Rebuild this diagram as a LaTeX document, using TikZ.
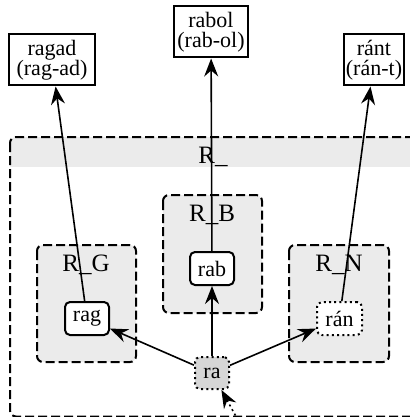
\documentclass[tikz,border=0pt]{standalone}
\usepackage{fontspec}
\setmainfont{Liberation Serif}
\usetikzlibrary{arrows.meta}
\definecolor{groupgray}{HTML}{EBEBEB}
\definecolor{seedgray}{HTML}{D6D6D6}
\begin{document}
\begin{tikzpicture}[x=0.5pt,y=-0.5pt,
  groupbox/.style={draw, line width=1pt, dash pattern=on 4.5pt off 2pt,
    rounded corners=3pt, fill=groupgray},
  grouplabel/.style={font=\fontsize{12.5}{15}\selectfont, anchor=base, inner sep=0pt},
  wordbox/.style={draw, line width=1pt, align=center, fill=white,
    font=\fontsize{11}{13.2}\selectfont, inner sep=0pt, minimum height=25.5pt},
  morph/.style={draw, line width=1pt, rounded corners=2.5pt, fill=white,
    font=\fontsize{11}{13.2}\selectfont, inner sep=0pt,
    minimum height=16.5pt, minimum width=22pt},
  dotborder/.style={dash pattern=on 1pt off 1.6pt},
  edge/.style={line width=0.8pt, -{Stealth[length=9pt,width=7pt,inset=3pt]}}
]
\useasboundingbox (0,0) rectangle (409,417);

% outer group with its grey header band
\begin{scope}
  \clip[rounded corners=3pt] (10,137) rectangle (440,416.5);
  \fill[groupgray] (10,137) rectangle (440,167);
\end{scope}
\draw[groupbox, fill=none] (10,137) rectangle (440,416.5);
\node[grouplabel] (lroot) at (213,163) {R\_};

% inner groups
\draw[groupbox] (163,195) rectangle (262,313);
\node[grouplabel] (lb) at (212,221.5) {R\_B};
\draw[groupbox] (37,245) rectangle (136,362);
\node[grouplabel] (lg) at (86,271.5) {R\_G};
\draw[groupbox] (289,245) rectangle (389,362);
\node[grouplabel] (ln) at (339,271.5) {R\_N};

% morphs
\node[morph] (rag) at (87,318.5) {rag};
\node[morph] (rab) at (212,268.5) {rab};
\node[morph, dotborder, minimum width=22.5pt] (ran) at (339.5,318.5) {rán};
\node[morph, dotborder, fill=seedgray, minimum width=17pt, minimum height=16pt] (ra) at (212,373) {ra};

% derived words
\node[wordbox, minimum width=43pt] (ragad) at (52,60) {ragad\\[-3pt](rag-ad)};
\node[wordbox, minimum width=37pt] (rabol) at (211,32) {rabol\\[-3pt](rab-ol)};
\node[wordbox, minimum width=30pt] (rant) at (374,60) {ránt\\[-3pt](rán-t)};

% connectors
\coordinate (entry) at (238,420);
\draw[edge, dotborder] (entry) -- (ra);
\draw[edge] (ra) -- (rag);
\draw[edge] (ra) -- (rab);
\draw[edge] (ra) -- (ran);
\draw[edge] (rag) -- (ragad);
\draw[edge] (rab) -- (rabol);
\draw[edge] (ran) -- (rant);
\end{tikzpicture}
\end{document}
